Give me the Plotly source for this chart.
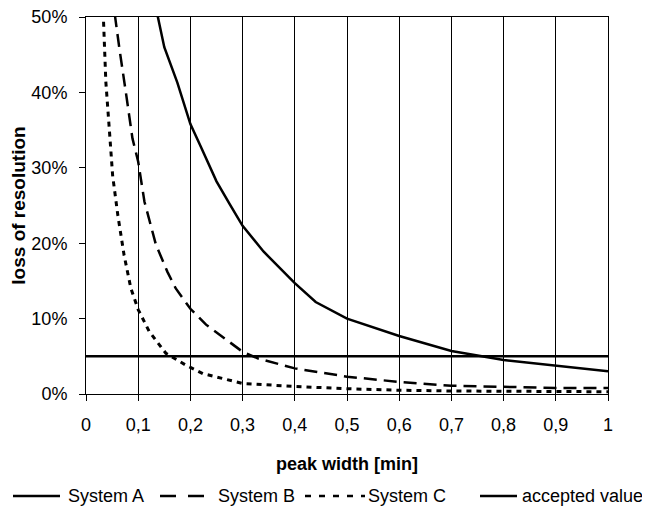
import plotly.graph_objects as go

# ---- data (peak width in min, loss of resolution in %) ----
x_a = [0.13, 0.15, 0.175, 0.2, 0.22, 0.25, 0.275, 0.3, 0.34, 0.4, 0.44, 0.5, 0.6, 0.7, 0.8, 0.9, 1.0]
sys_a = [52.5, 46.0, 41.3, 35.8, 32.8, 28.2, 25.2, 22.3, 18.9, 14.7, 12.2, 10.0, 7.7, 5.7, 4.5, 3.8, 3.0]

x_b = [0.05, 0.056, 0.064, 0.077, 0.089, 0.1, 0.112, 0.134, 0.156, 0.172, 0.2, 0.23, 0.3, 0.33, 0.4, 0.5, 0.6, 0.7, 0.8, 0.9, 1.0]
sys_b = [53.0, 49.8, 45.8, 39.7, 33.9, 30.8, 25.5, 19.8, 16.2, 14.0, 11.3, 9.2, 5.6, 4.7, 3.4, 2.3, 1.6, 1.1, 0.9, 0.8, 0.8]

x_c = [0.03, 0.033, 0.038, 0.045, 0.051, 0.061, 0.073, 0.086, 0.1, 0.121, 0.153, 0.192, 0.224, 0.3, 0.4, 0.5, 0.6, 0.7, 0.8, 0.9, 1.0]
sys_c = [56.0, 49.8, 41.4, 34.8, 29.0, 23.7, 18.4, 14.0, 11.2, 8.3, 5.4, 3.8, 2.7, 1.4, 1.0, 0.7, 0.5, 0.4, 0.35, 0.3, 0.3]

x_acc = [0.0, 1.0]
accepted = [5.0, 5.0]

series_names = ["System A", "System B", "System C", "accepted value"]

x_tickvals = [0, 0.1, 0.2, 0.3, 0.4, 0.5, 0.6, 0.7, 0.8, 0.9, 1.0]
x_ticktext = ["0", "0,1", "0,2", "0,3", "0,4", "0,5", "0,6", "0,7", "0,8", "0,9", "1"]
y_tickvals = [0, 10, 20, 30, 40, 50]
y_ticktext = ["0%", "10%", "20%", "30%", "40%", "50%"]

FONT = "Liberation Sans, Arial, sans-serif"
W, H = 642, 500            # page body has an 8px margin in the viewer
L, R, T, B = 78, 42, 9, 114
PW, PH = W - L - R, H - T - B

styles = [
    dict(color="black", width=2.5),
    dict(color="black", width=2.5, dash="13px,7px"),
    dict(color="black", width=3, dash="5px,5px"),
    dict(color="black", width=2.5),
]

fig = go.Figure()
for xs, ys, nm, st in zip([x_a, x_b, x_c, x_acc], [sys_a, sys_b, sys_c, accepted],
                          series_names, styles):
    fig.add_trace(go.Scatter(x=xs, y=ys, mode="lines", name=nm, line=st,
                             showlegend=False))

# legend drawn below the plot (positions in figure pixels)
def px_x(fx):
    return (fx - L) / PW

def px_y(fy):
    return (H - B - fy) / PH

leg_y = 488
leg_samples = [(5, 52), (152, 202), (297, 357), (472, 509)]
leg_text_x = [58, 208, 358, 512]
leg_dash = [None, "16px,12px", "6px,8px", None]
for (x0, x1), tx, nm, dsh in zip(leg_samples, leg_text_x, series_names, leg_dash):
    line = dict(color="black", width=2.5)
    if dsh:
        line["dash"] = dsh
    fig.add_shape(type="line", xref="paper", yref="paper",
                  x0=px_x(x0), x1=px_x(x1), y0=px_y(leg_y), y1=px_y(leg_y), line=line)
    fig.add_annotation(xref="paper", yref="paper", x=px_x(tx), y=px_y(leg_y),
                       text=nm, showarrow=False, xanchor="left", yanchor="middle",
                       font=dict(size=18))

fig.update_layout(
    width=W, height=H,
    margin=dict(l=L, r=R, t=T, b=B, autoexpand=False),
    paper_bgcolor="white", plot_bgcolor="white",
    font=dict(family=FONT, size=18, color="black"),
    showlegend=False,
    xaxis=dict(range=[0, 1], tickvals=x_tickvals, ticktext=x_ticktext,
               showgrid=True, gridcolor="black", gridwidth=1,
               showline=True, linecolor="black", linewidth=1, mirror=True,
               ticks="outside", ticklen=6, tickcolor="black", ticklabelstandoff=8,
               ticklabeloverflow="allow", zeroline=False,
               title=dict(text="<b>peak width [min]</b>", font=dict(size=18), standoff=23)),
    yaxis=dict(range=[0, 50], tickvals=y_tickvals, ticktext=y_ticktext,
               showgrid=False,
               showline=True, linecolor="black", linewidth=1, mirror=True,
               ticks="outside", ticklen=6, tickcolor="black", ticklabelstandoff=8,
               ticklabeloverflow="allow", zeroline=False,
               title=dict(text="<b>loss of resolution</b>", font=dict(size=19), standoff=10)),
)

fig.write_html("out.html")
